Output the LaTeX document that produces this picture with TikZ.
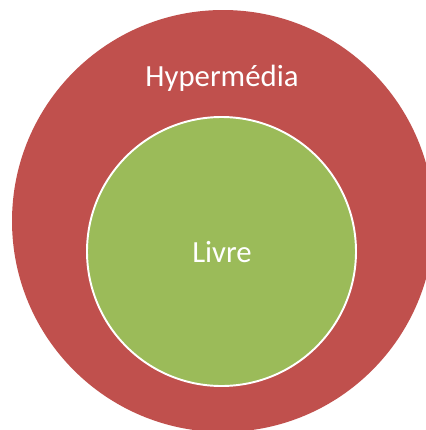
\documentclass[tikz,border=0pt]{standalone}
\usepackage{fontspec}
\setmainfont{Carlito}
\definecolor{hyperred}{HTML}{C0504D}
\definecolor{livregreen}{HTML}{9BBB59}
\begin{document}
\begin{tikzpicture}[x=0.02cm, y=-0.02cm, line cap=round, line join=round]

% --- Styles ---
\tikzset{
    outerdisc/.style={
        fill=hyperred
    },
    innerdisc/.style={
        fill=livregreen,
        draw=white,
        line width=1.1pt
    },
    circlelabel/.style={
        text=white,
        anchor=base,
        font=\fontsize{17.5}{21}\selectfont
    }
}

% --- Frame ---
\useasboundingbox (0,0) rectangle (426,430);
\clip (0,0) rectangle (426,430);

% --- Buitenste cirkel: Hypermedia ---
\fill[outerdisc] (223,221) circle[radius=211];

% --- Binnenste cirkel: Livre ---
\filldraw[innerdisc] (221.5,251.5) circle[radius=134.5];

% --- Labels ---
\node[circlelabel] (hypermedia) at (222,86) {Hypermédia};
\node[circlelabel] (livre) at (222,262) {Livre};

\end{tikzpicture}
\end{document}
